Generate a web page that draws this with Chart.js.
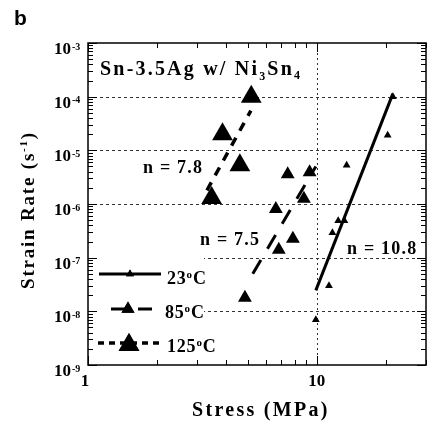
<!DOCTYPE html>
<html>
<head>
<meta charset="utf-8">
<script src="https://cdn.jsdelivr.net/npm/chart.js@4.4.0/dist/chart.umd.min.js"></script>
<style>
  body { margin: 0; background: #fff; }
  canvas { display: block; }
</style>
</head>
<body>
<canvas id="myChart" width="438" height="426"></canvas>
<script>
// creep data, Sn-3.5Ag w/ Ni3Sn4 (stress in MPa, strain rate in 1/s)
var stress23 = [9.9, 11.3, 11.7, 12.4, 13.2, 13.5, 20.4, 21.5]
var rate23 = [7e-9, 3.0e-8, 2.9e-7, 4.9e-7, 4.9e-7, 5.3e-6, 1.9e-5, 1.0e-4]
var stress85 = [4.85, 6.82, 7.86, 6.62, 8.78, 7.46, 9.3]
var rate85 = [1.8e-8, 1.4e-7, 2.25e-7, 8.1e-7, 1.25e-6, 3.6e-6, 3.9e-6]
var stress125 = [3.47, 4.61, 3.87, 5.17]
var rate125 = [1.3e-6, 5.3e-6, 2.0e-5, 1.0e-4]

// power law fits, end points
var fitStress23 = [9.9, 21.5]
var fitRate23 = [2.46e-8, 1.14e-4]
var fitStress85 = [5.25, 9.9]
var fitRate85 = [5.0e-8, 5.0e-6]
var fitStress125 = [3.31, 5.15]
var fitRate125 = [1.8e-6, 5.5e-5]

var temps = ["23", "85", "125"]
var exponents = ["10.8", "7.5", "7.8"]

var yDecades = [-9, -8, -7, -6, -5, -4, -3]
var xTickLabels = [1, 10]
var gridY = [1e-8, 1e-7, 1e-6, 1e-5, 1e-4]
var gridX = [10]

const SERIF = '"Liberation Serif", "Times New Roman", serif'

function pts(xs, ys) {
    return xs.map((x, i) => ({ x: x, y: ys[i] }))
}

function logTicks(scale) {
    const ticks = []
    const lo = Math.floor(Math.log10(scale.min) + 1e-9)
    const hi = Math.ceil(Math.log10(scale.max) - 1e-9)
    for (let e = lo; e <= hi; e++) {
        for (let m = 1; m <= 9; m++) {
            const v = m * Math.pow(10, e)
            if (v >= scale.min * 0.999 && v <= scale.max * 1.001) ticks.push({ value: v })
        }
    }
    scale.ticks = ticks
}

function isDecade(v) {
    const l = Math.log10(v)
    return Math.abs(l - Math.round(l)) < 1e-6
}

// text made of pieces (sub/superscripts), bold serif
function runWidth(ctx, parts, spacing) {
    ctx.save()
    ctx.letterSpacing = (spacing || 0) + "px"
    let w = 0
    parts.forEach(p => {
        ctx.font = "bold " + p.size + "px " + SERIF
        w += ctx.measureText(p.text).width
    })
    ctx.restore()
    return w
}

function drawRun(ctx, x, y, parts, spacing) {
    ctx.save()
    ctx.textAlign = "left"
    ctx.textBaseline = "alphabetic"
    ctx.fillStyle = "#000"
    ctx.letterSpacing = (spacing || 0) + "px"
    let cx = x
    parts.forEach(p => {
        ctx.font = "bold " + p.size + "px " + SERIF
        ctx.fillText(p.text, cx, y + (p.dy || 0))
        cx += ctx.measureText(p.text).width
    })
    ctx.restore()
}

// legend box and rows: line sample, marker and label
const legendBox = { x0: 89, x1: 204, y0: 250, y1: 364 }
const legendRows = [
    { y: 274, x0: 99, x1: 161, mx: 130, r: 4.5, dash: [], text: 167, base: 284 },
    { y: 309, x0: 111, x1: 156, mx: 128, r: 7.5, dash: [14, 13], text: 165, base: 318 },
    { y: 343, x0: 98, x1: 162, mx: 129, r: 12, dash: [6, 5], text: 167, base: 352, my: 345 }
]

const paperPlugin = {
    id: "paper",
    beforeDraw(chart) {
        const ctx = chart.ctx
        ctx.save()
        ctx.fillStyle = "#fff"
        ctx.fillRect(0, 0, chart.width, chart.height)
        ctx.restore()
    },
    beforeDatasetsDraw(chart) {
        const { ctx, chartArea: a, scales: { x, y } } = chart
        ctx.save()
        ctx.strokeStyle = "#333"
        ctx.lineWidth = 1
        ctx.setLineDash([3, 3])
        gridY.forEach(v => {
            const py = Math.round(y.getPixelForValue(v)) + 0.5
            ctx.beginPath()
            ctx.moveTo(a.left, py)
            ctx.lineTo(a.right, py)
            ctx.stroke()
        })
        ctx.setLineDash([2, 3])
        gridX.forEach(v => {
            const px = Math.round(x.getPixelForValue(v)) + 0.5
            ctx.beginPath()
            ctx.moveTo(px, a.top)
            ctx.lineTo(px, a.bottom)
            ctx.stroke()
        })
        // legend sits on a white patch over the grid
        ctx.fillStyle = "#fff"
        ctx.fillRect(legendBox.x0, legendBox.y0, legendBox.x1 - legendBox.x0, legendBox.y1 - legendBox.y0)
        ctx.restore()
    },
    afterDraw(chart) {
        const { ctx, chartArea: a, scales: { x, y } } = chart
        const ds = chart.data.datasets
        ctx.save()

        // frame
        ctx.strokeStyle = "#000"
        ctx.lineWidth = 1.5
        ctx.strokeRect(a.left, a.top, a.right - a.left, a.bottom - a.top)

        // inward ticks on all four sides
        ctx.lineWidth = 1
        ctx.beginPath()
        y.ticks.forEach(t => {
            const py = Math.round(y.getPixelForValue(t.value)) + 0.5
            const len = isDecade(t.value) ? 9 : 5
            ctx.moveTo(a.left, py); ctx.lineTo(a.left + len, py)
            ctx.moveTo(a.right, py); ctx.lineTo(a.right - len, py)
        })
        x.ticks.forEach(t => {
            const px = Math.round(x.getPixelForValue(t.value)) + 0.5
            const len = isDecade(t.value) ? 9 : 5
            ctx.moveTo(px, a.bottom); ctx.lineTo(px, a.bottom - len)
            ctx.moveTo(px, a.top); ctx.lineTo(px, a.top + len)
        })
        ctx.stroke()

        // y tick labels 10^n
        yDecades.forEach(e => {
            const py = y.getPixelForValue(Math.pow(10, e))
            ctx.font = "bold 17px " + SERIF
            ctx.textAlign = "right"
            ctx.textBaseline = "alphabetic"
            ctx.fillStyle = "#000"
            ctx.fillText("10", 71, py + 11)
            ctx.font = "bold 10px " + SERIF
            ctx.textAlign = "left"
            ctx.fillText(String(e), 72, py + 6.5)
        })

        // x tick labels
        ctx.font = "bold 17px " + SERIF
        ctx.textAlign = "center"
        xTickLabels.forEach(v => {
            const px = x.getPixelForValue(v)
            ctx.fillText(String(v), px - (v < 10 ? 3 : 0), 386)
        })

        // axis titles
        drawRun(ctx, 192, 416, [{ text: "Stress (MPa)", size: 20 }], 2.3)

        const yParts = [
            { text: "Strain Rate (s", size: 19 },
            { text: "-1", size: 11, dy: -7 },
            { text: ")", size: 19 }
        ]
        const yw = runWidth(ctx, yParts, 1.8)
        ctx.save()
        ctx.beginPath()
        ctx.rect(20, 0, 60, chart.height)
        ctx.clip()
        ctx.translate(34, 210)
        ctx.rotate(-Math.PI / 2)
        drawRun(ctx, -yw / 2, 0, yParts, 1.8)
        ctx.restore()

        // panel letter
        ctx.font = "bold 21px \"Liberation Sans\", Arial, sans-serif"
        ctx.textAlign = "left"
        ctx.fillText("b", 14, 25)

        // alloy annotation
        drawRun(ctx, 100, 75, [
            { text: "Sn-3.5Ag w/ Ni", size: 20 },
            { text: "3", size: 12, dy: 5 },
            { text: "Sn", size: 20 },
            { text: "4", size: 12, dy: 4 }
        ], 2.2)

        // stress exponents
        drawRun(ctx, 143, 173, [{ text: "n = " + exponents[2], size: 18 }], 1.2)
        drawRun(ctx, 200, 245, [{ text: "n = " + exponents[1], size: 18 }], 1.2)
        drawRun(ctx, 347, 254, [{ text: "n = " + exponents[0], size: 18 }], 1.2)

        // legend
        legendRows.forEach((row, i) => {
            const line = ds[3 + i]
            const mark = ds[i]
            ctx.save()
            ctx.strokeStyle = "#000"
            ctx.lineWidth = line.borderWidth
            ctx.setLineDash(row.dash)
            ctx.beginPath()
            ctx.moveTo(row.x0, row.y)
            ctx.lineTo(row.x1, row.y)
            ctx.stroke()
            ctx.restore()
            Chart.helpers.drawPoint(ctx, {
                pointStyle: "triangle", radius: row.r, rotation: 0, borderWidth: 0
            }, row.mx, row.my || row.y)
            ctx.fillStyle = mark.backgroundColor
            ctx.fill()
            drawRun(ctx, row.text, row.base, [
                { text: temps[i], size: 18 },
                { text: "o", size: 11, dy: -6 },
                { text: "C", size: 18 }
            ], 0.8)
        })

        ctx.restore()
    }
}

const triangles = (label, xs, ys, r) => ({
    label: label,
    data: pts(xs, ys),
    showLine: false,
    pointStyle: "triangle",
    pointRadius: r,
    pointBorderWidth: 0,
    backgroundColor: "#000",
    borderColor: "#000",
    order: 0
})

const fitLine = (label, xs, ys, dash, w) => ({
    label: label,
    data: pts(xs, ys),
    showLine: true,
    pointRadius: 0,
    borderColor: "#000",
    borderWidth: w,
    borderDash: dash,
    borderCapStyle: "butt",
    order: 1
})

const myChart = new Chart(document.getElementById("myChart"), {
    type: "scatter",
    data: {
        datasets: [
            triangles("23°C", stress23, rate23, 4.5),
            triangles("85°C", stress85, rate85, 8),
            triangles("125°C", stress125, rate125, 12),
            fitLine("23°C fit", fitStress23, fitRate23, [], 3),
            fitLine("85°C fit", fitStress85, fitRate85, [16, 13], 3),
            fitLine("125°C fit", fitStress125, fitRate125, [9, 8], 3.5)
        ]
    },
    options: {
        responsive: false,
        animation: false,
        layout: { padding: { left: 88, top: 43, right: 11, bottom: 61 } },
        plugins: {
            legend: { display: false },
            tooltip: { enabled: false }
        },
        scales: {
            x: {
                type: "logarithmic",
                min: 1,
                max: 30,
                afterBuildTicks: logTicks,
                ticks: { display: false },
                grid: { display: false, drawTicks: false },
                border: { display: false }
            },
            y: {
                type: "logarithmic",
                min: 1e-9,
                max: 1e-3,
                afterBuildTicks: logTicks,
                ticks: { display: false },
                grid: { display: false, drawTicks: false },
                border: { display: false }
            }
        }
    },
    plugins: [paperPlugin]
})
</script>
</body>
</html>
